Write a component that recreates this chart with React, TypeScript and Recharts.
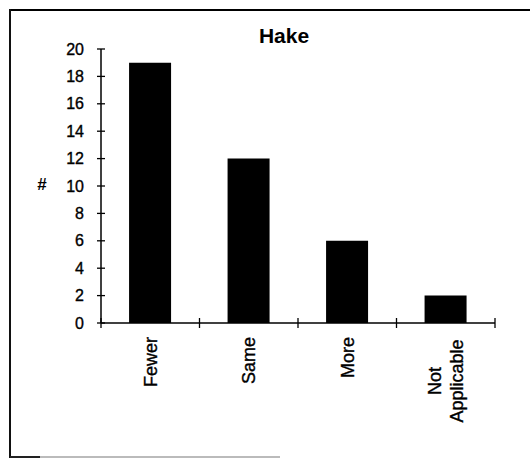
import React from "react";
import { BarChart, Bar, XAxis, YAxis } from "recharts";

const categories = ["Fewer", "Same", "More", "Not Applicable"];
const counts = [19, 12, 6, 2];
const yTicks = [0, 2, 4, 6, 8, 10, 12, 14, 16, 18, 20];

const data = categories.map((c, i) => ({ name: c, count: counts[i] }));

const FONT = "'Liberation Sans', Arial, sans-serif";

function YTick(props: any) {
  const { x, y, payload } = props;
  return (
    <g>
      <line x1={x - 4} x2={x + 4} y1={y} y2={y} stroke="#000" strokeWidth={1.3} />
      <text
        x={x - 17}
        y={y}
        dy="0.35em"
        textAnchor="end"
        fontSize={16}
        fontFamily={FONT}
        fill="#000"
        stroke="#000"
        strokeWidth={0.35}
      >
        {payload.value}
      </text>
    </g>
  );
}

function XTick(props: any) {
  const { x, y, payload } = props;
  const half = payload.offset ?? 49;
  const isLast = payload.value === categories[categories.length - 1];
  const lines = String(payload.value).split(" ");
  const textStyle = { fontSize: 18, fontFamily: FONT, fill: "#000", stroke: "#000", strokeWidth: 0.35 };
  return (
    <g>
      <line x1={x - half} x2={x - half} y1={y - 5} y2={y + 5} stroke="#000" strokeWidth={1.3} />
      {isLast && (
        <line x1={x + half} x2={x + half} y1={y - 5} y2={y + 5} stroke="#000" strokeWidth={1.3} />
      )}
      {lines.length === 1 ? (
        <text
          x={x}
          y={y + 14}
          dy="0.35em"
          transform={`rotate(-90, ${x}, ${y + 14})`}
          textAnchor="end"
          {...textStyle}
        >
          {lines[0]}
        </text>
      ) : (
        <text
          x={x}
          y={y + 58}
          transform={`rotate(-90, ${x}, ${y + 58})`}
          textAnchor="middle"
          {...textStyle}
        >
          <tspan x={x} dy={-5}>{lines[0]}</tspan>
          <tspan x={x} dy={22}>{lines[1]}</tspan>
        </text>
      )}
    </g>
  );
}

export default function App() {
  return (
    <div style={{ position: "absolute", left: 0, top: 0, width: 530, height: 458, background: "#fff" }}>
      {/* scanned frame */}
      <div style={{ position: "absolute", left: 10, top: 9, width: 520, height: 2, background: "#000" }} />
      <div style={{ position: "absolute", left: 9, top: 9, width: 2, height: 449, background: "#111" }} />
      <div style={{ position: "absolute", left: 10, top: 456, width: 30, height: 2, background: "#222" }} />
      <div style={{ position: "absolute", left: 40, top: 456, width: 240, height: 2, background: "#bbb" }} />

      <div
        style={{
          position: "absolute",
          left: 234,
          width: 100,
          top: 25,
          textAlign: "center",
          fontFamily: FONT,
          fontWeight: "bold",
          fontSize: 21,
          lineHeight: "21px",
        }}
      >
        Hake
      </div>
      <div
        style={{
          position: "absolute",
          left: 32,
          width: 20,
          top: 176,
          textAlign: "center",
          fontFamily: FONT,
          fontWeight: "bold",
          fontSize: 17,
          lineHeight: "18px",
        }}
      >
        #
      </div>

      <BarChart
        width={530}
        height={458}
        data={data}
        margin={{ top: 49, right: 35, left: 41, bottom: 35 }}
        barCategoryGap="28.5%"
        style={{ position: "absolute", left: 0, top: 0 }}
      >
        <XAxis
          dataKey="name"
          height={100}
          interval={0}
          tickSize={0}
          tickMargin={0}
          tickLine={false}
          axisLine={{ stroke: "#000", strokeWidth: 1.5 }}
          tick={<XTick />}
        />
        <YAxis
          width={60}
          domain={[0, 20]}
          ticks={yTicks}
          interval={0}
          tickSize={0}
          tickMargin={0}
          tickLine={false}
          axisLine={{ stroke: "#000", strokeWidth: 1.5 }}
          tick={<YTick />}
        />
        <Bar dataKey="count" fill="#000" isAnimationActive={false} />
      </BarChart>
    </div>
  );
}
